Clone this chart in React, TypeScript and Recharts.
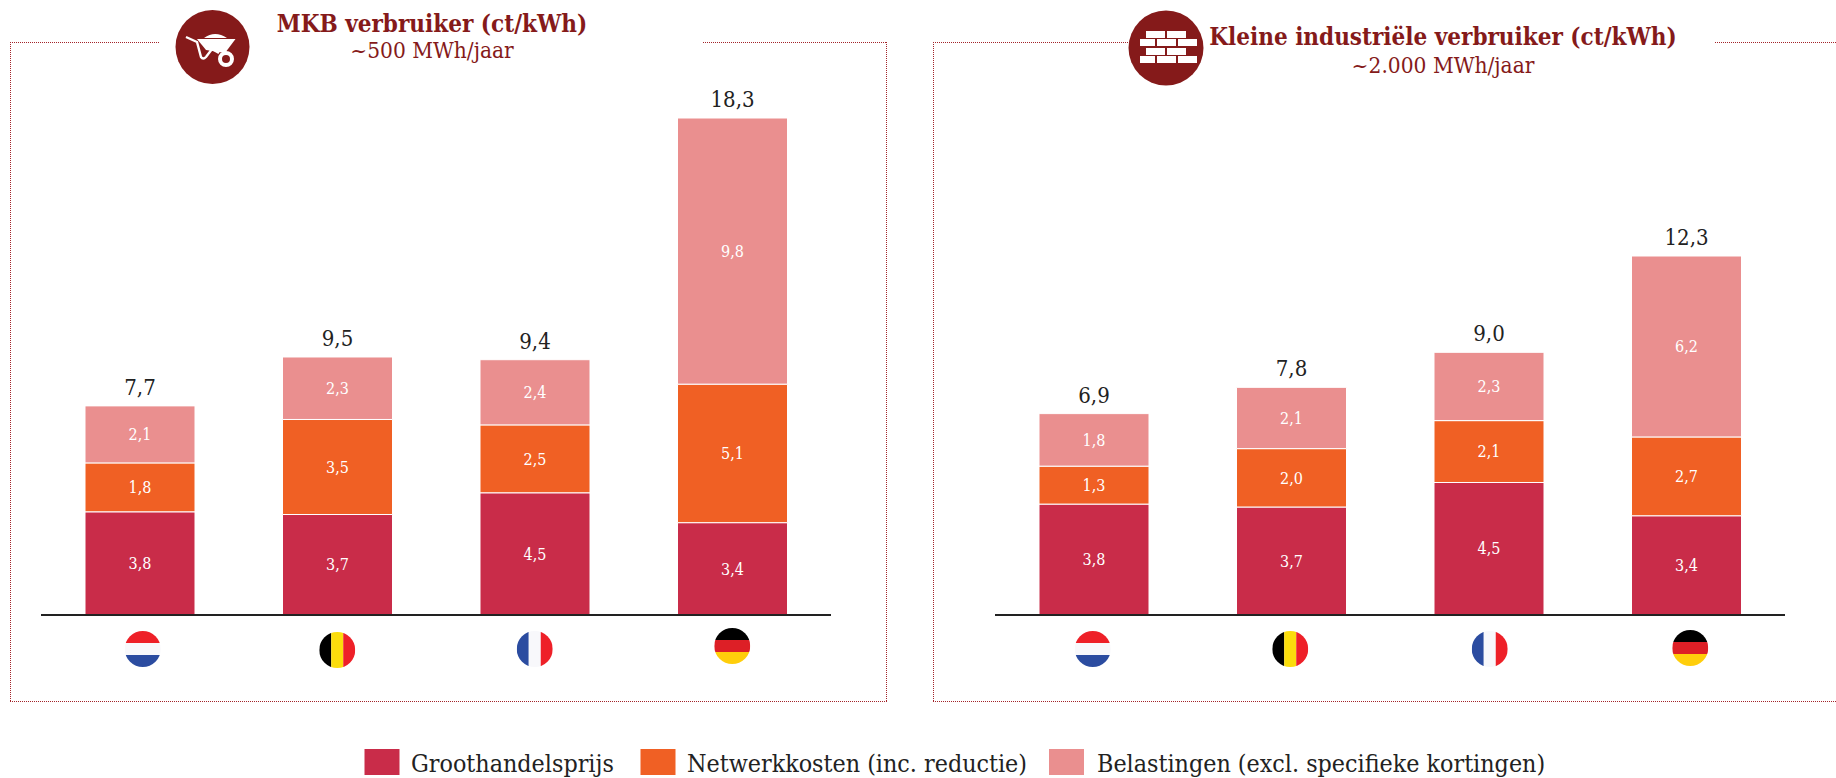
import { Bar, BarChart, LabelList, XAxis, YAxis } from 'recharts';

const countries = ['Nederland', 'België', 'Frankrijk', 'Duitsland'];
const seriesNames = ['Groothandelsprijs', 'Netwerkkosten (inc. reductie)', 'Belastingen (excl. specifieke kortingen)'];

const mkbWholesale = [3.8, 3.7, 4.5, 3.4];
const mkbNetwork = [1.8, 3.5, 2.5, 5.1];
const mkbTaxes = [2.1, 2.3, 2.4, 9.8];
const mkbTotals = ['7,7', '9,5', '9,4', '18,3'];

const industryWholesale = [3.8, 3.7, 4.54, 3.4];
const industryNetwork = [1.3, 2.0, 2.12, 2.7];
const industryTaxes = [1.8, 2.1, 2.34, 6.2];
const industryTotals = ['6,9', '7,8', '9,0', '12,3'];

const SERIF = '"DejaVu Serif Condensed", "DejaVu Serif", serif';
const DARK_RED = '#851A1A';
const INK = '#222222';
const seriesColors = ['#C92C49', '#F06024', '#EA8F8F'];

const flagBands: Record<string, { dir: 'h' | 'v'; colors: string[] }> = {
  Nederland: { dir: 'h', colors: ['#EE2028', '#F8F8FB', '#2B4CA0'] },
  België: { dir: 'v', colors: ['#000000', '#FBDD0C', '#EE2028'] },
  Frankrijk: { dir: 'v', colors: ['#2B4CA0', '#F8F8FB', '#EE2028'] },
  Duitsland: { dir: 'h', colors: ['#000000', '#DD1F26', '#FFCE0B'] },
};

const fmt = (v: unknown) => Number(v).toFixed(1).replace('.', ',');

function FlagTick({ x, y, payload, shiftX, shiftY, id }: any) {
  const flag = flagBands[payload.value];
  const r = 18;
  const cx = x + (shiftX[payload.index] ?? 0);
  const cy = y + (shiftY[payload.index] ?? 0);
  const clip = `${id}-${payload.index}`;
  return (
    <g>
      <clipPath id={clip}>
        <circle cx={cx} cy={cy} r={r} />
      </clipPath>
      <g clipPath={`url(#${clip})`}>
        {flag.colors.map((c, i) =>
          flag.dir === 'h' ? (
            <rect key={c} x={cx - r} y={cy - r + (i * 2 * r) / 3} width={2 * r} height={(2 * r) / 3} fill={c} />
          ) : (
            <rect key={c} x={cx - r + (i * 2 * r) / 3} y={cy - r} width={(2 * r) / 3} height={2 * r} fill={c} />
          ),
        )}
      </g>
    </g>
  );
}

function TotalLabel({ x, y, width, index, totals }: any) {
  return (
    <text x={x + width / 2} y={y - 11} textAnchor="middle" fontSize={22} fontFamily={SERIF} fill={INK}>
      {totals[index]}
    </text>
  );
}

function StackChart({ left, plotTop, maxValue, wholesale, network, taxes, totals, shiftX, shiftY, id }: any) {
  const data = countries.map((country, i) => ({
    country,
    wholesale: wholesale[i],
    network: network[i],
    taxes: taxes[i],
  }));
  return (
    <div style={{ position: 'absolute', left, top: 0 }}>
      <BarChart width={790} height={700} data={data} barSize={110} margin={{ top: plotTop, right: 0, left: 0, bottom: 0 }}>
        <YAxis hide domain={[0, maxValue]} />
        <XAxis
          dataKey="country"
          height={85}
          interval={0}
          tickLine={false}
          axisLine={{ stroke: INK, strokeWidth: 2 }}
          tick={<FlagTick shiftX={shiftX} shiftY={shiftY} id={id} />}
        />
        {['wholesale', 'network', 'taxes'].map((key, i) => (
          <Bar
            key={key}
            dataKey={key}
            name={seriesNames[i]}
            stackId="a"
            fill={seriesColors[i]}
            stroke="#ffffff"
            strokeWidth={1}
            isAnimationActive={false}
          >
            <LabelList
              dataKey={key}
              position="center"
              formatter={fmt}
              fill="#ffffff"
              fontSize={16}
              fontFamily={SERIF}
            />
            {i === 2 && <LabelList dataKey={key} content={(p: any) => <TotalLabel {...p} totals={totals} />} />}
          </Bar>
        ))}
      </BarChart>
    </div>
  );
}

function Overlay() {
  const dotted = { stroke: '#A3242A', strokeWidth: 1, strokeDasharray: '1 1', fill: 'none' };
  const bricksWide = [1146, 1167];
  const bricksNarrow = [
    [1140, 15],
    [1157, 19],
    [1178, 19],
  ];
  return (
    <svg width={1836} height={778} style={{ position: 'absolute', left: 0, top: 0 }}>
      <path d="M10 42.5H160M703 42.5H887M10.5 42V702M10 701.5H887M886.5 42V702" {...dotted} />
      <path d="M933 42.5H1128M933.5 42V702M933 701.5H1836M1715 42.5H1836" {...dotted} />

      <circle cx={212.5} cy={47} r={37} fill={DARK_RED} />
      <g stroke="#ffffff" fill="none" strokeWidth={2.4}>
        <path d="M186 37L197 42L201 57Q203 60 206 57L212 49L219 53" />
        <circle cx={226} cy={59} r={6} strokeWidth={4} />
      </g>
      <path d="M197 39H235.5L225 53L206 50Z" fill="#ffffff" />
      <path d="M204 38Q215 30 227 38Z" fill="#ffffff" />

      <circle cx={1166} cy={48} r={37.5} fill={DARK_RED} />
      {[31, 48].map((y) => bricksWide.map((x) => <rect key={`${x}-${y}`} x={x} y={y} width={19} height={7} fill="#ffffff" />))}
      {[39, 56].map((y) => bricksNarrow.map(([x, w]) => <rect key={`${x}-${y}`} x={x} y={y} width={w} height={7} fill="#ffffff" />))}

      <g fontFamily={SERIF} textAnchor="middle" fill={DARK_RED}>
        <text x={432} y={32} fontSize={24} fontWeight={700}>MKB verbruiker (ct/kWh)</text>
        <text x={432} y={58} fontSize={22.5}>~500 MWh/jaar</text>
        <text x={1443} y={45} fontSize={24} fontWeight={700}>Kleine industriële verbruiker (ct/kWh)</text>
        <text x={1443} y={73} fontSize={22.5}>~2.000 MWh/jaar</text>
      </g>

      {[
        [364.5, 411],
        [640.5, 687],
        [1049, 1097],
      ].map(([sx, tx], i) => (
        <g key={seriesNames[i]}>
          <rect x={sx} y={749} width={35} height={26} fill={seriesColors[i]} />
          <text x={tx} y={772} fontSize={24.8} fontFamily={SERIF} fill={INK}>{seriesNames[i]}</text>
        </g>
      ))}
    </svg>
  );
}

export default function App() {
  return (
    <div style={{ position: 'absolute', left: 0, top: 0, width: 1836, height: 778, overflow: 'hidden', background: '#ffffff' }}>
      <Overlay />
      <StackChart
        id="mkb"
        left={41}
        plotTop={118}
        maxValue={18.3}
        wholesale={mkbWholesale}
        network={mkbNetwork}
        taxes={mkbTaxes}
        totals={mkbTotals}
        shiftX={[3, 0, 0, 0]}
        shiftY={[26, 27, 26, 23]}
      />
      <StackChart
        id="ind"
        left={995}
        plotTop={256}
        maxValue={12.3}
        wholesale={industryWholesale}
        network={industryNetwork}
        taxes={industryTaxes}
        totals={industryTotals}
        shiftX={[-1, -1, 1, 4]}
        shiftY={[26, 26, 26, 25]}
      />
    </div>
  );
}
